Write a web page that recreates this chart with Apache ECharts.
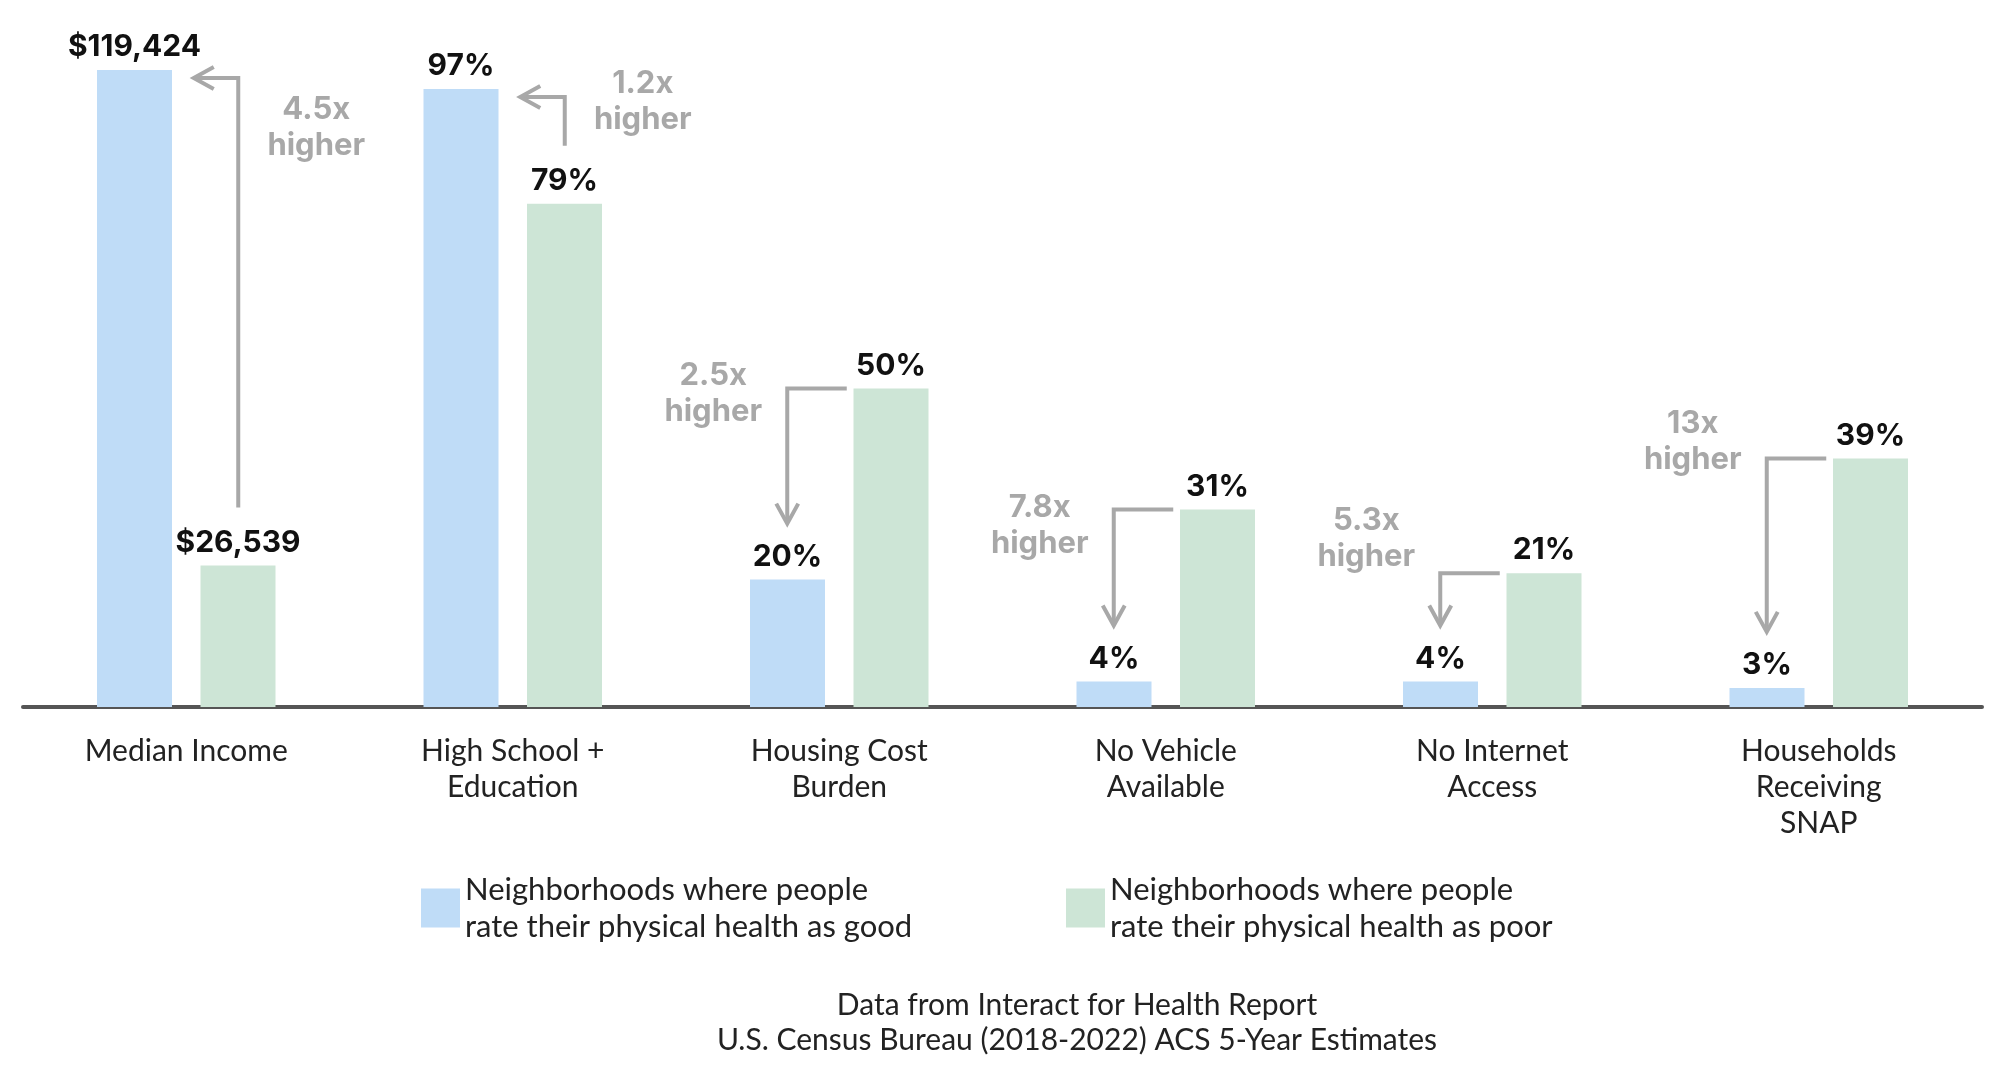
<!DOCTYPE html>
<html lang="en">
<head>
<meta charset="UTF-8">
<title>Neighborhood health comparison</title>
<script src="https://cdn.jsdelivr.net/npm/echarts@6/dist/echarts.min.js"></script>
<style>
  html, body { margin: 0; padding: 0; background: #fff; }
  #chart { width: 1998px; height: 1068px; }
</style>
</head>
<body>
<div id="chart"></div>
<script>
var categories = ['Median Income', 'High School +\nEducation', 'Housing Cost\nBurden', 'No Vehicle\nAvailable', 'No Internet\nAccess', 'Households\nReceiving\nSNAP'];
// bar heights on a common 0-100 scale (income shown as % of the higher value)
var goodValues = [100, 97, 20, 4, 4, 3];
var poorValues = [22.2, 79, 50, 31, 21, 39];
var goodLabels = ['$119,424', '97%', '20%', '4%', '4%', '3%'];
var poorLabels = ['$26,539', '79%', '50%', '31%', '21%', '39%'];
var ratios = ['4.5x', '1.2x', '2.5x', '7.8x', '5.3x', '13x'];
var goodName = 'Neighborhoods where people\nrate their physical health as good';
var poorName = 'Neighborhoods where people\nrate their physical health as poor';

var textDy = [58, 13, 5, 16, -35, -17];
var gray = '#a8a8a8';
var barW = 75, half = 52;

var chart = echarts.init(document.getElementById('chart'));
var valueLabel = function (arr) {
    return {
        show: true, position: 'top', distance: 8,
        formatter: function (p) { return arr[p.dataIndex]; },
        fontFamily: 'Inter', fontWeight: 'bold', fontSize: 30, color: '#111'
    };
};
var legendText = { fontFamily: 'Lato', fontSize: 31, color: '#222', lineHeight: 37 };

chart.setOption({
    animation: false,
    grid: { left: 23, right: 16, top: 70, bottom: 361 },
    title: {
        text: 'Data from Interact for Health Report\nU.S. Census Bureau (2018-2022) ACS 5-Year Estimates',
        left: 1072, top: 983, textAlign: 'center',
        textStyle: { fontFamily: 'Lato', fontWeight: 'normal', fontSize: 30, color: '#222', lineHeight: 35 }
    },
    legend: [
        { data: [goodName], left: 416, top: 866, itemWidth: 39, itemHeight: 39, itemGap: 20,
          icon: 'rect', textStyle: legendText, selectedMode: false },
        { data: [poorName], left: 1061, top: 866, itemWidth: 39, itemHeight: 39,
          icon: 'rect', textStyle: legendText, selectedMode: false }
    ],
    xAxis: {
        type: 'category', data: categories,
        axisLine: { lineStyle: { color: '#555', width: 4 } },
        axisTick: { show: false },
        axisLabel: { fontFamily: 'Lato', fontSize: 30, color: '#222', margin: 26, lineHeight: 36, interval: 0 }
    },
    yAxis: { type: 'value', min: 0, max: 100, show: false, splitLine: { show: false } },
    series: [
        { name: goodName, type: 'bar', data: goodValues, barWidth: barW, barGap: '38%',
          itemStyle: { color: '#bfdcf7' }, label: valueLabel(goodLabels) },
        { name: poorName, type: 'bar', data: poorValues, barWidth: barW,
          itemStyle: { color: '#cde5d6' }, label: valueLabel(poorLabels) }
    ]
});

function arrowHead(x, y, dir) {
    var s = 11, l = 20, pts;
    if (dir === 'left') pts = [[x, y], [x + l, y - s], [x + l, y + s]];
    else pts = [[x, y], [x - s, y - l], [x + s, y - l]];
    return { type: 'polyline', shape: { points: [pts[1], pts[0], pts[2]] },
             style: { stroke: gray, lineWidth: 4, fill: null } };
}

var graphics = [];
categories.forEach(function (c, i) {
    var cx = chart.convertToPixel({ xAxisIndex: 0 }, c);
    var goodTop = chart.convertToPixel({ yAxisIndex: 0 }, goodValues[i]);
    var poorTop = chart.convertToPixel({ yAxisIndex: 0 }, poorValues[i]);
    var txt = ratios[i] + '\nhigher';
    var textStyle = { fontFamily: 'Inter', fontWeight: 'bold', fontSize: 31, fill: gray, lineHeight: 36, align: 'center', verticalAlign: 'middle' };
    if (goodValues[i] > poorValues[i]) {
        var vx = cx + half, hy = goodTop + 8, tip = cx - half + barW / 2 + 22;
        graphics.push({ type: 'polyline', shape: { points: [[vx, poorTop - 58], [vx, hy], [tip + 2, hy]] },
                        style: { stroke: gray, lineWidth: 4, fill: null } });
        graphics.push(arrowHead(tip, hy, 'left'));
        graphics.push({ type: 'text', x: cx + 130, y: goodTop + textDy[i],
                        style: Object.assign({ text: txt }, textStyle) });
    } else {
        var hx0 = cx + half - barW / 2 - 7, vx2 = cx - half, tipY = goodTop - 56;
        graphics.push({ type: 'polyline', shape: { points: [[hx0, poorTop], [vx2, poorTop], [vx2, tipY - 2]] },
                        style: { stroke: gray, lineWidth: 4, fill: null } });
        graphics.push(arrowHead(vx2, tipY, 'down'));
        graphics.push({ type: 'text', x: vx2 - 74, y: poorTop + textDy[i],
                        style: Object.assign({ text: txt }, textStyle) });
    }
});
chart.setOption({ graphic: graphics });
</script>
</body>
</html>
